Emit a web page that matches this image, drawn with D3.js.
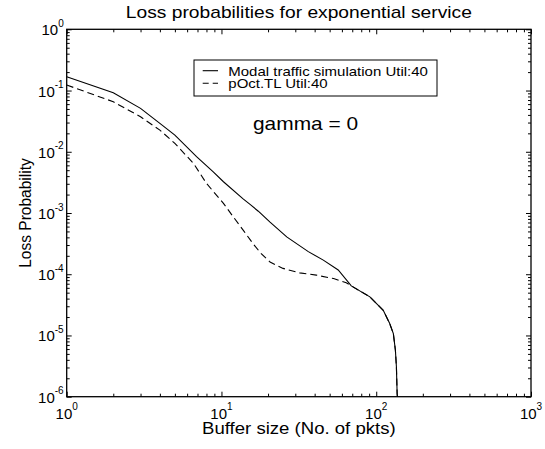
<!DOCTYPE html>
<html>
<head>
<meta charset="utf-8">
<script src="https://cdn.jsdelivr.net/npm/d3@7"></script>
<style>
  body { margin: 0; background: #fff; }
  svg { display: block; font-family: "Liberation Sans", Arial, Helvetica, sans-serif; }
</style>
</head>
<body>
<div id="chart"></div>
<script>
// Modal traffic simulation (solid) - buffer size vs loss probability
const simBuffer = [1, 2, 3, 4, 5, 6.9, 8.85, 10.3, 13.8, 15.3, 17.3, 20.6, 26.4, 36.4, 45.5, 56.8, 69, 91, 111, 122, 129, 133, 135, 136.5, 137];
const simLoss = [0.168, 0.092, 0.0512, 0.0291, 0.01875, 0.00832, 0.00471, 0.00324, 0.0017, 0.00138, 0.00107, 0.000708, 0.000407, 0.000234, 0.00017, 0.0001175, 0.0000646, 0.0000427, 0.0000257, 0.0000158, 0.0000107, 0.00000575, 0.00000309, 0.00000112, 0.000001];

// pOct.TL (dashed)
const tlBuffer = [1, 2, 3, 4, 5, 6.6, 8, 10.3, 11.9, 14, 16, 18, 20.6, 25, 32, 41, 53, 64, 69, 91, 111, 122, 129, 133, 135, 136.5, 137];
const tlLoss = [0.123, 0.0656, 0.0373, 0.0226, 0.0137, 0.00646, 0.00305, 0.001436, 0.000871, 0.000501, 0.000316, 0.000219, 0.000158, 0.0001245, 0.0001054, 0.0000966, 0.0000851, 0.0000724, 0.0000646, 0.0000427, 0.0000257, 0.0000158, 0.0000107, 0.00000575, 0.00000309, 0.00000112, 0.000001];

const xMajor = [1, 10, 100, 1000];
const xMajorExp = ["0", "1", "2", "3"];
const yMajor = [1e-6, 1e-5, 1e-4, 1e-3, 1e-2, 1e-1, 1];
const yMajorExp = ["-6", "-5", "-4", "-3", "-2", "-1", "0"];

const seriesNames = ["Modal traffic simulation Util:40", "pOct.TL Util:40"];

// the original figure text is a bit wider than the font, stretch it along its run
function stretch(sel, k) {
    sel.each(function() {
        const w = this.getComputedTextLength();
        d3.select(this)
            .attr("textLength", w * k)
            .attr("lengthAdjust", "spacingAndGlyphs");
    });
}

function createLossChart() {
    const width = 545, height = 449;
    const margin = { top: 29.3, right: 14, bottom: 52.3, left: 66.7 };

    const svg = d3.select("#chart").append("svg")
        .attr("width", width)
        .attr("height", height);

    const x = d3.scaleLog()
        .domain([1, 1000])
        .range([margin.left, width - margin.right]);

    const y = d3.scaleLog()
        .domain([1e-6, 1])
        .range([height - margin.bottom, margin.top]);

    const x0 = margin.left, x1 = width - margin.right;
    const y0 = height - margin.bottom, y1 = margin.top;

    // minor ticks = log ticks that are not decades
    const xMinor = x.ticks().filter(v => !xMajor.some(m => Math.abs(m - v) / m < 1e-9));
    const yMinor = y.ticks().filter(v => !yMajor.some(m => Math.abs(m - v) / m < 1e-9));

    const axes = svg.append("g").attr("class", "axes");

    function addAxis(axisFn, scale, values, size, translate) {
        const g = axes.append("g")
            .attr("transform", translate)
            .call(axisFn(scale).tickValues(values).tickSize(-size).tickSizeOuter(0).tickFormat(""));
        g.select(".domain").remove();
        g.selectAll(".tick line").attr("stroke", "#000").attr("stroke-width", 1);
    }

    // ticks point inward on all four sides
    addAxis(d3.axisBottom, x, xMajor, 5, `translate(0,${y0})`);
    addAxis(d3.axisBottom, x, xMinor, 3, `translate(0,${y0})`);
    addAxis(d3.axisTop, x, xMajor, 5, `translate(0,${y1})`);
    addAxis(d3.axisTop, x, xMinor, 3, `translate(0,${y1})`);
    addAxis(d3.axisLeft, y, yMajor, 5, `translate(${x0},0)`);
    addAxis(d3.axisLeft, y, yMinor, 3, `translate(${x0},0)`);
    addAxis(d3.axisRight, y, yMajor, 5, `translate(${x1},0)`);
    addAxis(d3.axisRight, y, yMinor, 3, `translate(${x1},0)`);

    // box
    svg.append("rect")
        .attr("x", x0)
        .attr("y", y1)
        .attr("width", x1 - x0)
        .attr("height", y0 - y1)
        .attr("fill", "none")
        .attr("stroke", "#000")
        .attr("stroke-width", 1.3);

    // x tick labels 10^n
    const xl = svg.selectAll(".x-label")
        .data(xMajor)
        .enter()
        .append("text")
        .attr("class", "x-label")
        .attr("x", d => x(d))
        .attr("y", y0 + 21.8)
        .attr("text-anchor", "middle")
        .style("font-size", "15px");
    xl.append("tspan").text("10");
    xl.append("tspan")
        .attr("dy", -8.5)
        .style("font-size", "10px")
        .text((d, i) => xMajorExp[i]);

    // y tick labels 10^n
    const yl = svg.selectAll(".y-label")
        .data(yMajor)
        .enter()
        .append("text")
        .attr("class", "y-label")
        .attr("x", x0 - 3)
        .attr("y", d => y(d) + 6)
        .attr("text-anchor", "end")
        .style("font-size", "15px");
    yl.append("tspan").text("10");
    yl.append("tspan")
        .attr("dy", -8.5)
        .style("font-size", "10px")
        .text((d, i) => yMajorExp[i]);

    // curves
    const line = d3.line()
        .x(d => x(d[0]))
        .y(d => y(d[1]));

    svg.append("path")
        .datum(simBuffer.map((b, i) => [b, simLoss[i]]))
        .attr("fill", "none")
        .attr("stroke", "#000")
        .attr("stroke-width", 1.1)
        .attr("d", line);

    svg.append("path")
        .datum(tlBuffer.map((b, i) => [b, tlLoss[i]]))
        .attr("fill", "none")
        .attr("stroke", "#000")
        .attr("stroke-width", 1.1)
        .attr("stroke-dasharray", "7,4")
        .attr("d", line);

    // titles
    svg.append("text")
        .attr("x", (x0 + x1) / 2)
        .attr("y", 18)
        .attr("text-anchor", "middle")
        .style("font-size", "17px")
        .text("Loss probabilities for exponential service")
        .call(stretch, 1.13);

    svg.append("text")
        .attr("x", (x0 + x1) / 2)
        .attr("y", 434)
        .attr("text-anchor", "middle")
        .style("font-size", "16px")
        .text("Buffer size (No. of pkts)")
        .call(stretch, 1.16);

    svg.append("text")
        .attr("transform", "rotate(-90)")
        .attr("x", -(y0 + y1) / 2)
        .attr("y", 31)
        .attr("text-anchor", "middle")
        .style("font-size", "16px")
        .text("Loss Probability")
        .call(stretch, 0.97);

    // legend
    const legend = svg.append("g").attr("class", "legend");
    legend.append("rect")
        .attr("x", 194)
        .attr("y", 60)
        .attr("width", 243)
        .attr("height", 36)
        .attr("fill", "#fff")
        .attr("stroke", "#000")
        .attr("stroke-width", 1);

    const dashes = [null, "6,4"];
    seriesNames.forEach((name, i) => {
        const ly = 70.7 + i * 12.6;
        legend.append("line")
            .attr("x1", 202.7)
            .attr("x2", 218)
            .attr("y1", ly)
            .attr("y2", ly)
            .attr("stroke", "#000")
            .attr("stroke-width", 1.1)
            .attr("stroke-dasharray", dashes[i]);
        legend.append("text")
            .attr("x", 228.3)
            .attr("y", ly + 5)
            .style("font-size", "13.5px")
            .text(name)
            .call(stretch, 1.11);
    });

    svg.append("text")
        .attr("x", 253)
        .attr("y", 130)
        .style("font-size", "19px")
        .text("gamma = 0")
        .call(stretch, 1.1);
}

createLossChart();
</script>
</body>
</html>
